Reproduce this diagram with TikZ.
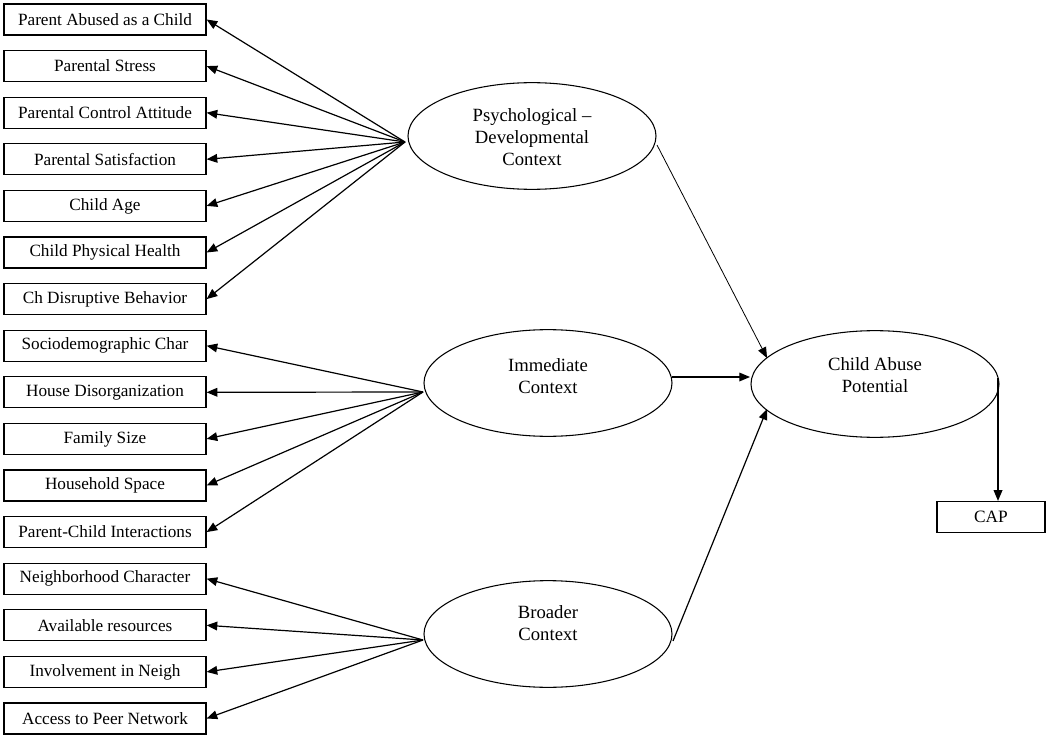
\documentclass[tikz,border=0pt]{standalone}
\usepackage{fontspec}
\setmainfont{Liberation Serif}
\usetikzlibrary{shapes.geometric,arrows.meta}
\tikzset{
  box/.style={draw, line width=0.9pt, minimum width=151.5pt, minimum height=23.25pt, inner sep=0pt, font=\fontsize{12.9}{15}\selectfont},
  ell/.style={draw, ellipse, line width=0.8pt, minimum width=186pt, minimum height=80pt, inner sep=0pt},
  etext/.style={align=center, inner sep=0pt, font=\fontsize{14}{16.3}\selectfont},
  arr/.style={line width=0.9pt, -{Triangle[length=8pt,width=6.5pt]}},
  thinarr/.style={line width=0.6pt, -{Triangle[length=8pt,width=6.5pt]}}
}
\begin{document}
\begin{tikzpicture}[x=0.75pt,y=-0.75pt]
\useasboundingbox (0,0) rectangle (1050,738);
% left boxes
\foreach \i/\t in {0/Parent Abused as a Child,1/Parental Stress,2/Parental Control Attitude,3/Parental Satisfaction,4/Child Age,5/Child Physical Health,6/Ch Disruptive Behavior,7/Sociodemographic Char,8/House Disorganization,9/Family Size,10/Household Space,11/Parent-Child Interactions,12/Neighborhood Character,13/Available resources,14/Involvement in Neigh,15/Access to Peer Network}{
  \node[box] (b\i) at (105,{19.5+46.6*\i}) {\t};
}
% ellipses
\node[ell] (psy) at (532,136) {};
\node[etext] (psyt) at (532,137) {Psychological –\\Developmental\\Context};
\node[ell] (imm) at (548,383) {};
\node[etext] (immt) at (548,376) {Immediate\\Context};
\node[ell] (bro) at (548,634) {};
\node[etext] (brot) at (548,623) {Broader\\Context};
\node[ell] (cap) at (875,384) {};
\node[etext] (capt) at (875,375) {Child Abuse\\Potential};
\node[box, minimum width=81pt, font=\fontsize{13}{15}\selectfont] (capb) at (991,517) {CAP};
% convergence points
\coordinate (pc) at (405,142);
\coordinate (ic) at (423,392);
\coordinate (bc) at (423,640);
\foreach \i in {0,...,6}{\draw[arr] (pc) -- (b\i.east);}
\foreach \i in {7,...,11}{\draw[arr] (ic) -- (b\i.east);}
\foreach \i in {12,...,15}{\draw[arr] (bc) -- (b\i.east);}
% to CAP ellipse
\coordinate (pout) at (657,145);
\coordinate (cin1) at (767,358);
\coordinate (iout) at (672,377);
\coordinate (cin2) at (750,377);
\coordinate (bout) at (673,641);
\coordinate (cin3) at (767,409);
\coordinate (cout) at (998,378);
\draw[thinarr] (pout) -- (cin1);
\draw[arr] (iout) -- (cin2);
\draw[arr] (bout) -- (cin3);
\draw[arr] (cout) -- (cout |- capb.north);
\end{tikzpicture}
\end{document}
